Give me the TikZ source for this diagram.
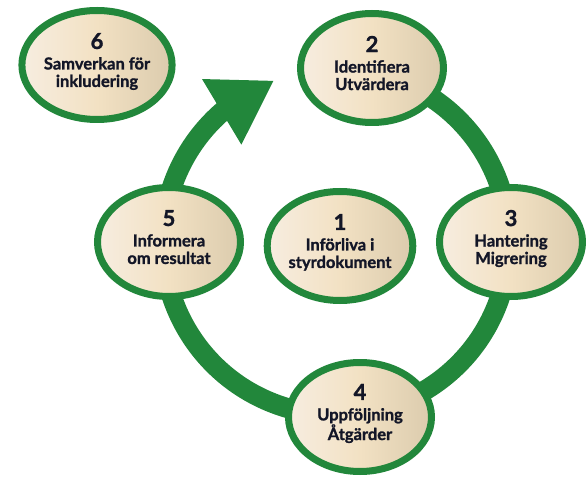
\documentclass[tikz,border=0pt]{standalone}
\usepackage{fontspec}
\setmainfont{Lato}[BoldFeatures={FakeBold=1.3}]
\usetikzlibrary{arrows.meta,bending,shapes.geometric}
\definecolor{gron}{HTML}{22873B}
\definecolor{ljus}{HTML}{F7EDE0}
\definecolor{sand}{HTML}{F2E1C3}
\definecolor{mork}{HTML}{DBCBAD}
\definecolor{marin}{HTML}{131627}
\newcommand{\siffra}[1]{{\fontsize{22}{22}\selectfont #1}\\[3pt]}

\begin{document}
\begin{tikzpicture}[x=1pt, y=1pt,
      p/.style={ellipse, draw=gron, line width=7pt, minimum width=143pt,
                minimum height=109pt, inner sep=0pt, left color=ljus,
                right color=mork, middle color=sand, align=center, text=marin,
                font=\bfseries\fontsize{16.5}{17.5}\selectfont, text depth=10pt},
      f/.style={draw=gron, line width=20pt, -{Triangle[length=61pt,width=72pt]}}]

    \useasboundingbox (0,0) rectangle (586,477);

    % --- Kretsloppet: ringen med pilen -----------------------------------
    \coordinate (mitt) at (336,235);
    \draw[f] (mitt) ++(70:173) arc[start angle=70, end angle=-249, radius=173];

    % --- Stegen ----------------------------------------------------------
    \node[p] (a) at (340,231) {\siffra{1}Införliva i\\styrdokument};
    \node[p] (b) at (372,409) {\siffra{2}Identifiera\\Utvärdera};
    \node[p] (c) at (511,235) {\siffra{3}Hantering\\Migrering};
    \node[p] (d) at (360,60)  {\siffra{4}Uppföljning\\Åtgärder};
    \node[p] (e) at (169,235) {\siffra{5}Informera\\om resultat};
    \node[p] (g) at (97,412)  {\siffra{6}Samverkan för\\inkludering};
\end{tikzpicture}
\end{document}
